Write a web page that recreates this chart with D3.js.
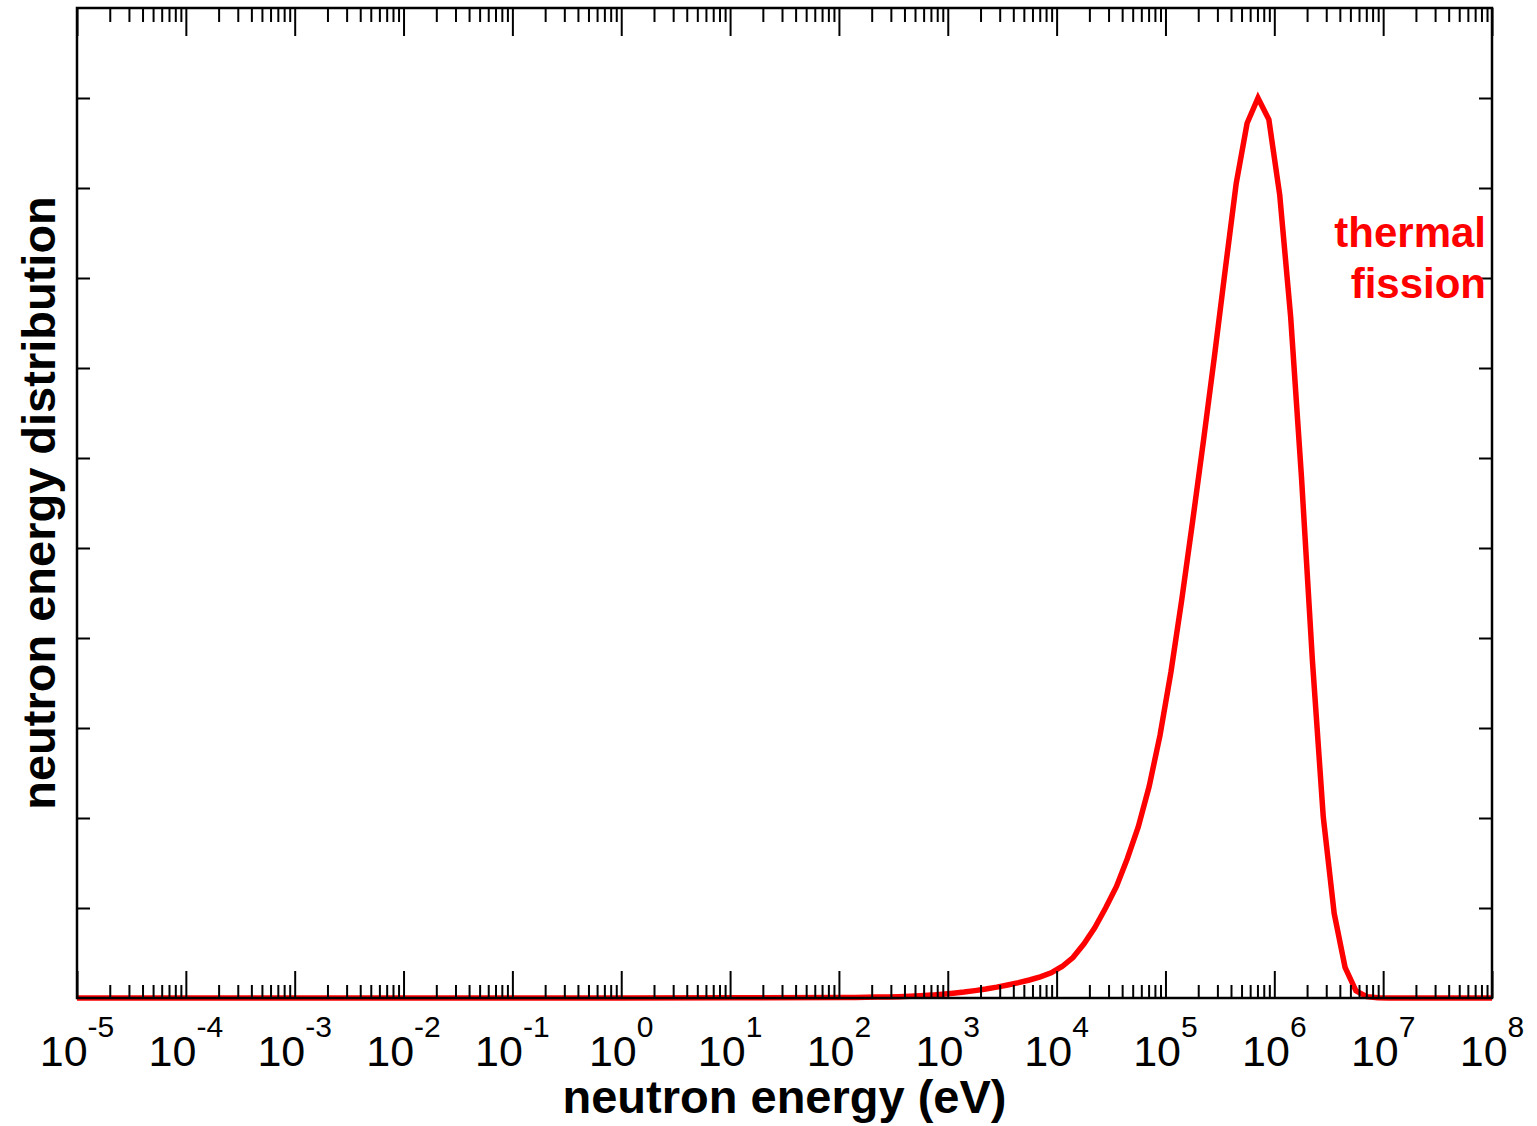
<!DOCTYPE html>
<html>
<head>
<meta charset="utf-8">
<script src="https://cdn.jsdelivr.net/npm/d3@7"></script>
<style>
  html, body { margin: 0; padding: 0; background: #fff; }
  svg { display: block; font-family: "Liberation Sans", Arial, Helvetica, sans-serif; }
</style>
</head>
<body>
<svg id="chart" width="1537" height="1126"></svg>
<script>
// Neutron energy (eV) sample points of the thermal-fission spectrum
const energy = [
  1e-5, 1e0, 1e1,
  112.2, 141.3, 177.8, 223.9, 281.8, 354.8, 446.7, 562.3, 707.9, 891.3,
  1122, 1413, 1778, 2239, 2818, 3548, 4467, 5623, 7079, 8913,
  11220, 14130, 17780, 22390, 28180, 35480, 44670, 56230, 70790, 89130,
  112200, 141300, 177800, 223900, 281800, 354800, 446700, 562300, 707900, 891300,
  1122000, 1413000, 1778000, 2239000, 2818000, 3548000, 4467000, 5623000, 7079000, 8913000,
  11220000, 1e8
];
// Relative distribution (peak normalised to 1)
const distribution = [
  0, 0.0001, 0.0003,
  0.0005, 0.0006, 0.0008, 0.0010, 0.0012, 0.0015, 0.0019, 0.0025, 0.0032, 0.0042,
  0.0053, 0.0066, 0.0082, 0.0100, 0.0121, 0.0145, 0.0171, 0.0200, 0.0235, 0.0280,
  0.035, 0.045, 0.060, 0.078, 0.100, 0.124, 0.155, 0.190, 0.235, 0.292,
  0.362, 0.443, 0.530, 0.620, 0.713, 0.810, 0.905, 0.972, 1.000, 0.976,
  0.892, 0.757, 0.578, 0.375, 0.201, 0.094, 0.034, 0.008, 0.0015, 0.0002,
  0, 0
];
// Decade exponents for the x tick labels
const decadeExponents = [-5, -4, -3, -2, -1, 0, 1, 2, 3, 4, 5, 6, 7, 8];
// Unlabelled y ticks
const yTickValues = [0.1, 0.2, 0.3, 0.4, 0.5, 0.6, 0.7, 0.8, 0.9, 1.0];
const seriesLabel = ["thermal", "fission"];

const svg = d3.select("#chart");
const plotLeft = 77, plotRight = 1492, plotTop = 8, plotBottom = 998;

const x = d3.scaleLog().domain([1e-5, 1e8]).range([plotLeft, plotRight]);
const y = d3.scaleLinear().domain([0, 1.1]).range([plotBottom, plotTop]);

const points = energy.map((e, i) => [e, distribution[i]]);

// spectrum curve
svg.append("path")
  .datum(points)
  .attr("fill", "none")
  .attr("stroke", "#ff0000")
  .attr("stroke-width", 5.5)
  .attr("stroke-linejoin", "miter")
  .attr("d", d3.line().x(d => x(d[0])).y(d => y(d[1])));

// x tick positions
const majors = decadeExponents.map(k => Math.pow(10, k));
const minors = [];
decadeExponents.slice(0, -1).forEach(k => {
  for (let m = 2; m <= 9; m++) minors.push(m * Math.pow(10, k));
});

function styleAxis(g) {
  g.select(".domain").remove();
  g.selectAll(".tick line").attr("stroke", "#000").attr("stroke-width", 2);
  g.selectAll(".tick text").remove();
}

// bottom ticks (pointing inward)
svg.append("g").attr("transform", `translate(0,${plotBottom})`)
  .call(d3.axisBottom(x).tickValues(minors).tickSize(-13).tickFormat(""))
  .call(styleAxis);
svg.append("g").attr("transform", `translate(0,${plotBottom})`)
  .call(d3.axisBottom(x).tickValues(majors).tickSize(-27).tickFormat(""))
  .call(styleAxis);
// top ticks
svg.append("g").attr("transform", `translate(0,${plotTop})`)
  .call(d3.axisTop(x).tickValues(minors).tickSize(-14).tickFormat(""))
  .call(styleAxis);
svg.append("g").attr("transform", `translate(0,${plotTop})`)
  .call(d3.axisTop(x).tickValues(majors).tickSize(-28).tickFormat(""))
  .call(styleAxis);
// left / right ticks
svg.append("g").attr("transform", `translate(${plotLeft},0)`)
  .call(d3.axisLeft(y).tickValues(yTickValues).tickSize(-13).tickFormat(""))
  .call(styleAxis);
svg.append("g").attr("transform", `translate(${plotRight},0)`)
  .call(d3.axisRight(y).tickValues(yTickValues).tickSize(-13).tickFormat(""))
  .call(styleAxis);

// frame
svg.append("rect")
  .attr("x", plotLeft).attr("y", plotTop)
  .attr("width", plotRight - plotLeft).attr("height", plotBottom - plotTop)
  .attr("fill", "none").attr("stroke", "#000").attr("stroke-width", 2.5);

// decade labels 10^k
const labels = svg.append("g");
decadeExponents.forEach(k => {
  const t = labels.append("text")
    .attr("x", x(Math.pow(10, k)))
    .attr("y", 1066)
    .attr("text-anchor", "middle")
    .attr("font-size", 43)
    .attr("fill", "#000");
  t.append("tspan").text("10");
  t.append("tspan").attr("font-size", 30).attr("dy", -29).text(String(k));
});

// axis titles
svg.append("text")
  .attr("x", (plotLeft + plotRight) / 2)
  .attr("y", 1113)
  .attr("text-anchor", "middle")
  .attr("font-size", 47)
  .attr("font-weight", "bold")
  .text("neutron energy (eV)");

svg.append("text")
  .attr("transform", `translate(55,${(plotTop + plotBottom) / 2}) rotate(-90)`)
  .attr("text-anchor", "middle")
  .attr("font-size", 47)
  .attr("font-weight", "bold")
  .text("neutron energy distribution");

// series label
const lab = svg.append("text")
  .attr("text-anchor", "end")
  .attr("font-size", 42)
  .attr("font-weight", "bold")
  .attr("fill", "#ff0000");
seriesLabel.forEach((s, i) => {
  lab.append("tspan").attr("x", 1486).attr("y", 247 + i * 51).text(s);
});
</script>
</body>
</html>
